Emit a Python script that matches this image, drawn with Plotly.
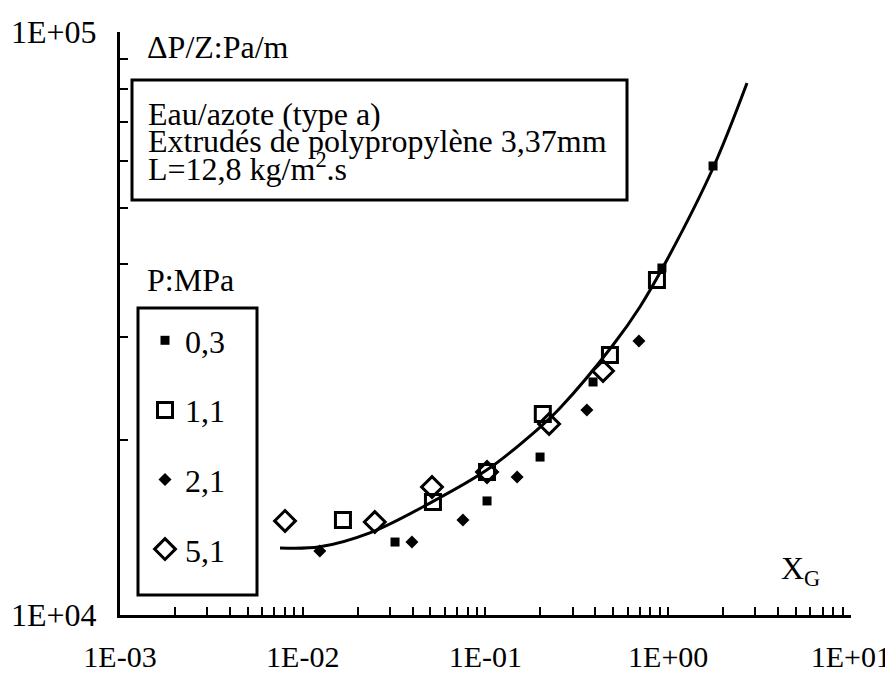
import plotly.graph_objects as go

### data
xg_03 = [0.0320, 0.102, 0.199, 0.388, 0.924, 1.76]
dp_03 = [13340, 15690, 18660, 25100, 39370, 58910]

xg_11 = [0.0166, 0.0516, 0.102, 0.206, 0.480, 0.868]
dp_11 = [14550, 15630, 17590, 22120, 27930, 37540]

xg_21 = [0.0124, 0.0396, 0.0753, 0.149, 0.359, 0.692]
dp_21 = [12870, 13340, 14550, 17250, 22470, 29510]

xg_51 = [0.0080, 0.0248, 0.0510, 0.102, 0.223, 0.440]
dp_51 = [14500, 14440, 16580, 17590, 21260, 26210]

xg_fit = [0.00751, 0.0124, 0.0233, 0.0497, 0.102, 0.191, 0.256, 0.499, 0.700, 0.984, 1.76, 2.70]
dp_fit = [13030, 13090, 13830, 15560, 17740, 20760, 22650, 29050, 33760, 40630, 58440, 81740]

x_tickvals = [1e-3, 1e-2, 1e-1, 1e0, 1e1]
x_ticktext = ["1E-03", "1E-02", "1E-01", "1E+00", "1E+01"]
y_tickvals = [1e4, 1e5]
y_ticktext = ["1E+04", "1E+05"]

### convenience (page body has an 8px margin)
OFF = 8
W, H = 893 - OFF, 675 - OFF
ML, MR, MT, MB = 120 - OFF, 42, 32 - OFF, 60
PW, PH = W - ML - MR, H - MT - MB
FONT = "Liberation Serif, Times New Roman, serif"
tfont = dict(family=FONT, size=32, color="black")


def px(x):
    return (x - OFF - ML) / PW


def py(y):
    return (H - MB - (y - OFF)) / PH


x_minor = [m * 10.0 ** e for e in range(-3, 1) for m in range(2, 10)]
y_minor = [m * 1e4 for m in range(2, 10)]

### traces
fit = go.Scatter(x=xg_fit, y=dp_fit, mode="lines", line=dict(color="black", width=3, shape="spline"),
                 showlegend=False, hoverinfo="skip")

series = [
    ("0,3", xg_03, dp_03, dict(symbol="square", size=9, color="black")),
    ("1,1", xg_11, dp_11, dict(symbol="square-open", size=15, color="black", line=dict(width=3, color="black"))),
    ("2,1", xg_21, dp_21, dict(symbol="diamond", size=10, color="black")),
    ("5,1", xg_51, dp_51, dict(symbol="diamond-open", size=16, color="black", line=dict(width=3, color="black"))),
]

traces = [fit]
for name, xs, ys, mk in series:
    traces.append(go.Scatter(x=xs, y=ys, mode="markers", name=name, marker=mk, legendgroup=name))

### axes
tick_common = dict(showgrid=False, zeroline=False, automargin=False,
                   showline=True, linewidth=3, linecolor="black",
                   ticks="inside", ticklen=8, tickwidth=2, tickcolor="black",
                   tickmode="array", ticklabeloverflow="allow")

xaxis = dict(type="log", range=[-3, 1.0005], tickvals=x_tickvals, ticktext=x_ticktext,
             ticklabelstandoff=13, tickfont=dict(family=FONT, size=30, color="black"),
             minor=dict(ticks="inside", ticklen=8, tickwidth=2, tickcolor="black",
                        tickmode="array", tickvals=x_minor, showgrid=False),
             **tick_common)

yaxis = dict(type="log", range=[4, 5], tickvals=y_tickvals, ticktext=y_ticktext,
             ticklabelstandoff=14, tickfont=tfont,
             minor=dict(ticks="inside", ticklen=8, tickwidth=2, tickcolor="black",
                        tickmode="array", tickvals=y_minor, showgrid=False),
             **tick_common)


def note(text, x, y):
    return dict(text=text, x=px(x), y=py(y), xref="paper", yref="paper", showarrow=False,
                xanchor="left", yanchor="middle", font=tfont)


annotations = [
    note("ΔP/Z:Pa/m", 145, 47),
    note("Eau/azote (type a)", 146, 114),
    note("Extrudés de polypropylène 3,37mm", 146, 141),
    note("L=12,8 kg/m<sup>2</sup>.s", 146, 167),
    note("P:MPa", 145, 280),
    note("X<sub>G</sub>", 779, 570),
]

shapes = [
    dict(type="rect", xref="paper", yref="paper", x0=px(132), x1=px(627), y0=py(200), y1=py(80),
         line=dict(color="black", width=3), fillcolor="rgba(0,0,0,0)"),
    dict(type="rect", xref="paper", yref="paper", x0=px(138), x1=px(257), y0=py(595), y1=py(308),
         line=dict(color="black", width=3), fillcolor="rgba(0,0,0,0)"),
]

layout = go.Layout(width=W, height=H, margin=dict(l=ML, r=MR, t=MT, b=MB),
                   plot_bgcolor="white", paper_bgcolor="white",
                   xaxis=xaxis, yaxis=yaxis,
                   annotations=annotations, shapes=shapes,
                   legend=dict(x=px(145), y=py(313), xanchor="left", yanchor="top",
                               font=tfont, bgcolor="rgba(0,0,0,0)", borderwidth=0,
                               tracegroupgap=25, itemsizing="trace"),
                   showlegend=True)

fig = go.Figure(data=traces, layout=layout)
fig.write_html("out.html")
